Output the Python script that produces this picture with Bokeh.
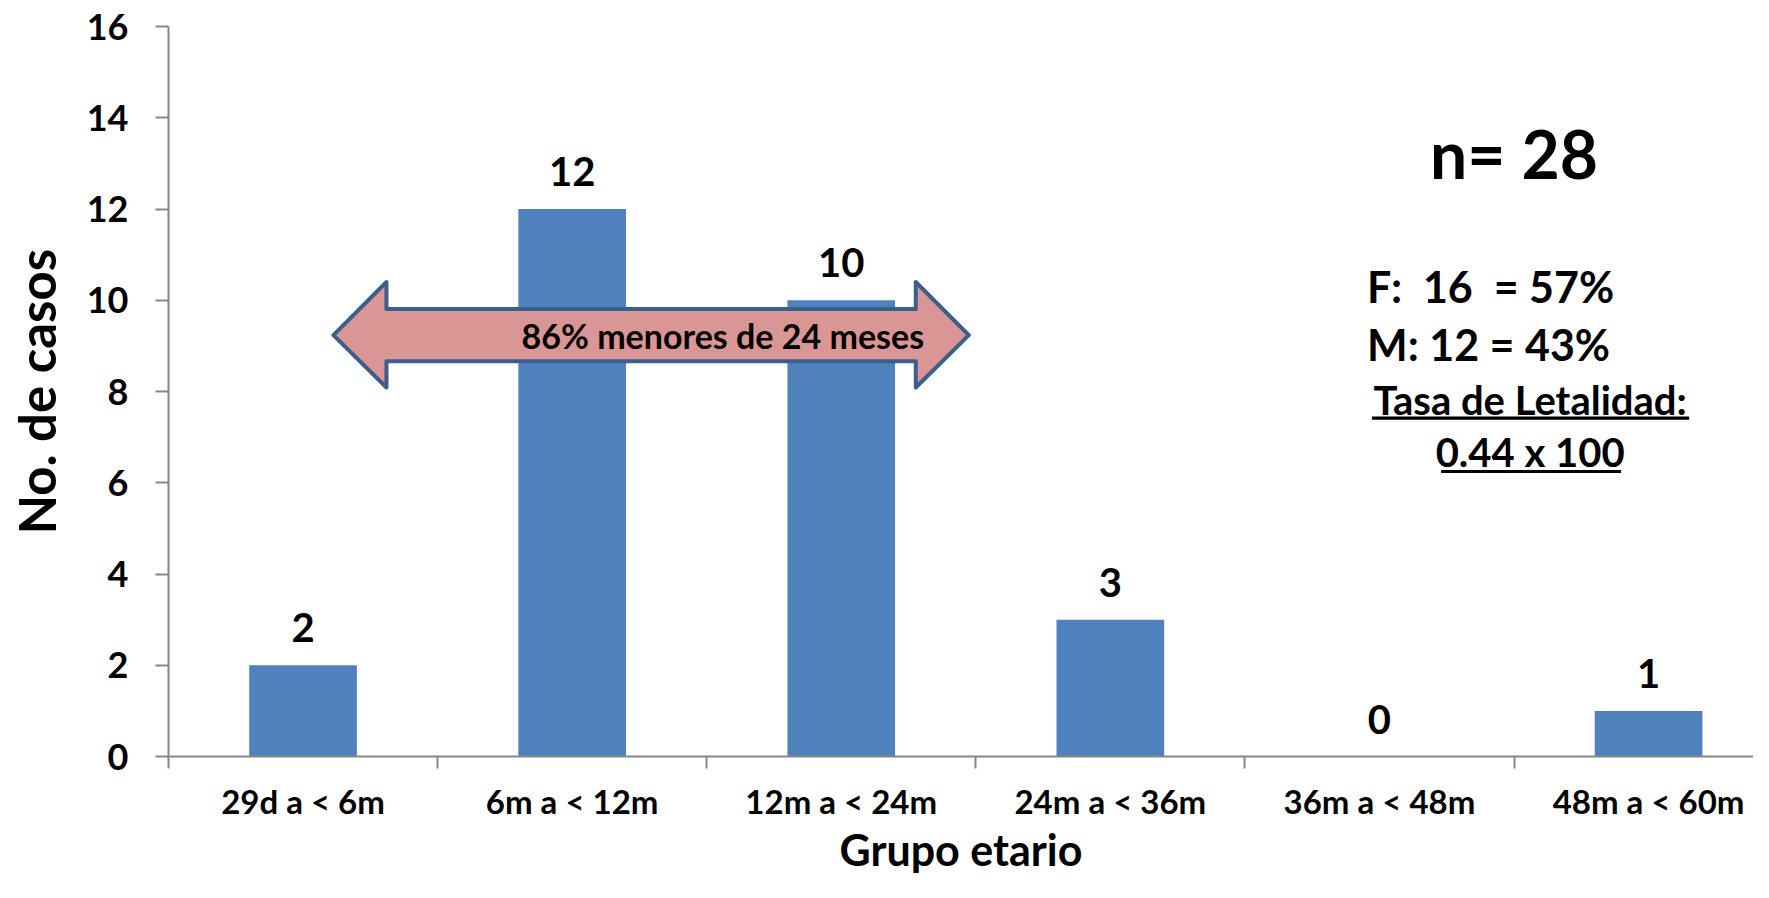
from bokeh.plotting import figure
from bokeh.models import (Range1d, FixedTicker, LabelSet, Label, ColumnDataSource,
                          BoxAnnotation)
from bokeh.core.properties import value
from bokeh.embed import file_html
from bokeh.resources import INLINE

# ---------------- data ----------------
categories = ["29d a < 6m", "6m a < 12m", "12m a < 24m",
              "24m a < 36m", "36m a < 48m", "48m a < 60m"]
casos = [2, 12, 10, 3, 0, 1]
y_ticks = [0, 2, 4, 6, 8, 10, 12, 14, 16]

x_title = "Grupo etario"
y_title = "No. de casos"
arrow_text = "86% menores de 24 meses"
n_text = "n= 28"
f_text = "F:\u00a0 16\u00a0 = 57%"
m_text = "M: 12 = 43%"
tasa_text = "Tasa de Letalidad:"
tasa_val = "0.44 x 100"

FONT = "Lato"
BAR = "#4F81BD"
AXIS = "#868686"

# ---------------- figure ----------------
centers = [i + 0.5 for i in range(len(categories))]
src = ColumnDataSource(dict(x=centers, top=casos, lbl=[str(v) for v in casos]))

p = figure(width=1753, height=882, output_backend="svg", toolbar_location=None,
           x_range=Range1d(0, 5.89), y_range=Range1d(0, 16),
           min_border_left=168, min_border_right=0, min_border_top=26,
           min_border_bottom=126)
p.outline_line_color = None
p.xgrid.visible = False
p.ygrid.visible = False
p.background_fill_color = "white"
p.border_fill_color = "white"

p.vbar(x="x", top="top", width=0.4, source=src, fill_color=BAR, line_color=None)

p.add_layout(LabelSet(x="x", y="top", text="lbl", source=src, y_offset=23,
                      text_align="center", text_baseline="alphabetic",
                      text_font=value(FONT), text_font_style="bold",
                      text_font_size="40px", text_color="black"))

# block double arrow (annotation)
ax = [0.613, 0.810, 0.810, 2.777, 2.777, 2.974, 2.777, 2.777, 0.810, 0.810]
ay = [9.234, 10.40, 9.807, 9.807, 10.40, 9.234, 8.088, 8.661, 8.661, 8.088]
p.patch(ax, ay, fill_color="#D99694", line_color="#3B5F8C", line_width=4,
        line_join="round")


def note(x, y, txt, size, align="center"):
    p.add_layout(Label(x=x, y=y, text=txt, text_align=align,
                       text_baseline="middle", text_font=FONT,
                       text_font_style="bold", text_font_size=size,
                       text_color="black"))


note(2.06, 9.234, arrow_text, "34px")

# right-side annotations
note(5.0, 13.22, n_text, "66px")
note(4.454, 10.31, f_text, "43px", "left")
note(4.454, 9.04, m_text, "43px", "left")
note(5.06, 7.82, tasa_text, "40px")
note(5.06, 6.68, tasa_val, "40px")
p.add_layout(BoxAnnotation(left=4.472, right=5.651, bottom=7.38, top=7.45,
                           fill_color="black", fill_alpha=1, line_color=None))
p.add_layout(BoxAnnotation(left=4.729, right=5.398, bottom=6.215, top=6.28,
                           fill_color="black", fill_alpha=1, line_color=None))

# x axis
xa = p.xaxis[0]
xa.ticker = FixedTicker(ticks=centers, minor_ticks=list(range(len(categories) + 1)))
xa.major_label_overrides = {c: lab for c, lab in zip(centers, categories)}
xa.axis_line_color = AXIS
xa.axis_line_width = 2
xa.major_tick_line_color = None
xa.major_tick_out = 12
xa.major_tick_in = 0
xa.minor_tick_line_color = AXIS
xa.minor_tick_line_width = 2
xa.minor_tick_out = 12
xa.minor_tick_in = 0
xa.major_label_standoff = 12
xa.major_label_text_font = FONT
xa.major_label_text_font_style = "bold"
xa.major_label_text_font_size = "33px"
xa.major_label_text_color = "black"
xa.axis_label = x_title
xa.axis_label_text_font = FONT
xa.axis_label_text_font_style = "bold"
xa.axis_label_text_font_size = "43px"
xa.axis_label_text_color = "black"
xa.axis_label_standoff = 0

# y axis
ya = p.yaxis[0]
ya.ticker = FixedTicker(ticks=y_ticks, minor_ticks=[])
ya.axis_line_color = AXIS
ya.axis_line_width = 2
ya.major_tick_line_color = AXIS
ya.major_tick_line_width = 2
ya.major_tick_out = 13
ya.major_tick_in = 0
ya.minor_tick_line_color = None
ya.major_label_standoff = 27
ya.major_label_text_font = FONT
ya.major_label_text_font_style = "bold"
ya.major_label_text_font_size = "36px"
ya.major_label_text_color = "black"
ya.axis_label = y_title
ya.axis_label_text_font = FONT
ya.axis_label_text_font_style = "bold"
ya.axis_label_text_font_size = "51px"
ya.axis_label_text_color = "black"
ya.axis_label_standoff = 17

open("out.html", "w").write(file_html(p, INLINE))
